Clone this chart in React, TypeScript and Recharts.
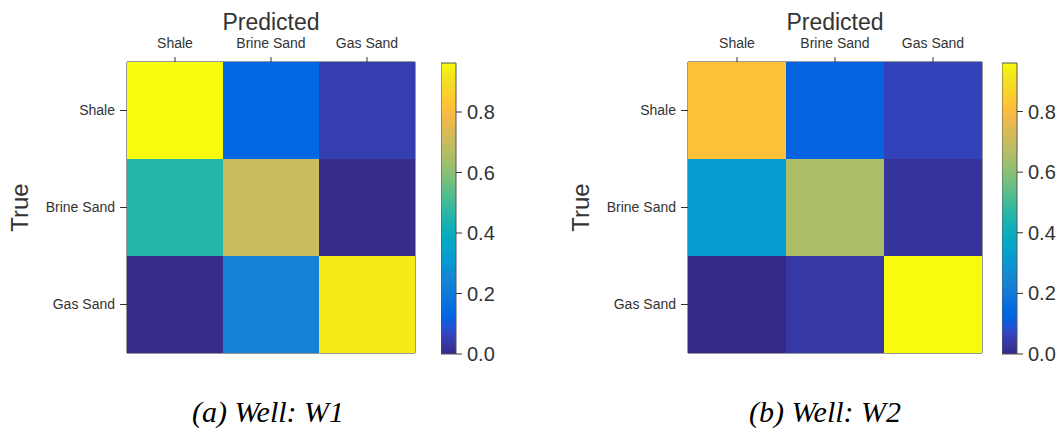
import {
    ComposedChart,
    ReferenceArea,
    Scatter,
    ScatterChart,
    XAxis,
    YAxis,
} from 'recharts';

const PREDICTED = ['Shale', 'Brine Sand', 'Gas Sand'];
const TRUE_LABELS = ['Shale', 'Brine Sand', 'Gas Sand'];
const CBAR_TICKS = [0, 0.2, 0.4, 0.6, 0.8];

// rows = true class, columns = predicted class
const W1 = [
    [0.962, 0.137, 0.049],
    [0.458, 0.702, 0.005],
    [0.005, 0.229, 0.931],
];

const W2 = [
    [0.815, 0.122, 0.061],
    [0.32, 0.652, 0.024],
    [0.0, 0.035, 0.96],
];

// parula colormap (64 steps)
const PARULA = [
    [0.2081, 0.1663, 0.5292], [0.2116, 0.1898, 0.5777], [0.2123, 0.2138, 0.627], [0.2081, 0.2386, 0.6771],
    [0.1959, 0.2645, 0.7279], [0.1707, 0.2919, 0.7792], [0.1253, 0.3242, 0.8303], [0.0591, 0.3598, 0.8683],
    [0.0117, 0.3875, 0.882], [0.006, 0.4086, 0.8828], [0.0165, 0.4266, 0.8786], [0.0329, 0.443, 0.872],
    [0.0498, 0.4586, 0.8641], [0.0629, 0.4737, 0.8554], [0.0723, 0.4887, 0.8467], [0.0779, 0.504, 0.8384],
    [0.0793, 0.52, 0.8312], [0.0749, 0.5375, 0.8263], [0.0641, 0.557, 0.824], [0.0488, 0.5772, 0.8228],
    [0.0343, 0.5966, 0.8199], [0.0265, 0.6137, 0.8135], [0.0239, 0.6287, 0.8038], [0.0231, 0.6418, 0.7913],
    [0.0228, 0.6535, 0.7768], [0.0267, 0.6642, 0.7607], [0.0384, 0.6743, 0.7436], [0.059, 0.6838, 0.7254],
    [0.0843, 0.6928, 0.7062], [0.1133, 0.7015, 0.6859], [0.1453, 0.7098, 0.6646], [0.1801, 0.7177, 0.6424],
    [0.2178, 0.725, 0.6193], [0.2586, 0.7317, 0.5954], [0.3022, 0.7376, 0.5712], [0.3482, 0.7424, 0.5473],
    [0.3953, 0.7459, 0.5244], [0.442, 0.7481, 0.5033], [0.4871, 0.7491, 0.484], [0.53, 0.7491, 0.4661],
    [0.5709, 0.7485, 0.4494], [0.6099, 0.7473, 0.4337], [0.6473, 0.7456, 0.4188], [0.6834, 0.7435, 0.4044],
    [0.7184, 0.7411, 0.3905], [0.7525, 0.7384, 0.3768], [0.7858, 0.7356, 0.3633], [0.8185, 0.7327, 0.3498],
    [0.8507, 0.7299, 0.336], [0.8824, 0.7274, 0.3217], [0.9139, 0.7258, 0.3063], [0.945, 0.7261, 0.2886],
    [0.9739, 0.7314, 0.2666], [0.9938, 0.7455, 0.2403], [0.999, 0.7653, 0.2164], [0.9955, 0.7861, 0.1967],
    [0.988, 0.8066, 0.1794], [0.9789, 0.8271, 0.1633], [0.9697, 0.8481, 0.1475], [0.9626, 0.8705, 0.1309],
    [0.9589, 0.8949, 0.1132], [0.9598, 0.9218, 0.0948], [0.9661, 0.9514, 0.0755], [0.9763, 0.9831, 0.0538],
];

const toHex = (rgb: number[]) =>
    '#' + rgb.map((c) => Math.round(c * 255).toString(16).padStart(2, '0')).join('');

function parula(t: number) {
    const p = Math.max(0, Math.min(1, t)) * (PARULA.length - 1);
    const i = Math.floor(p);
    const j = Math.min(i + 1, PARULA.length - 1);
    const f = p - i;
    return toHex(PARULA[i].map((c, k) => c + (PARULA[j][k] - c) * f));
}

const TEXT = '#333333';
const FONT = '"Liberation Sans", Arial, sans-serif';
const tickStyle = { fill: TEXT, fontSize: 14, fontFamily: FONT };
const line = { stroke: TEXT };

const Y_AXIS_W = 125;
const TOP_AXIS_H = 48;
const PLOT_TOP = 62;
const PLOT_H = 291;
const CHART_H = 380;

interface PanelProps {
    matrix: number[][];
    plotLeft: number;
    plotW: number;
    cbarLeft: number;
    gradId: string;
}

function Panel({ matrix, plotLeft, plotW, cbarLeft, gradId }: PanelProps) {
    const vmax = Math.max(...matrix.flat());
    const cells = matrix.flatMap((row, r) =>
        row.map((v, c) => ({ x: c, y: r, v, color: parula(v / vmax) })),
    );
    const cw = plotW / 3;
    const ch = PLOT_H / 3;
    const chartW = Y_AXIS_W + plotW + 1 + 5;
    const bottomMargin = CHART_H - PLOT_TOP - PLOT_H - 10;

    const cellShape = (props: any) => {
        const { cx, cy, payload } = props;
        return (
            <rect
                x={cx - cw / 2}
                y={cy - ch / 2}
                width={cw}
                height={ch}
                fill={payload.color}
            />
        );
    };

    return (
        <>
            <div style={{ position: 'absolute', left: plotLeft - Y_AXIS_W, top: 0 }}>
                <ScatterChart
                    width={chartW}
                    height={CHART_H}
                    margin={{ top: PLOT_TOP - TOP_AXIS_H, right: 5, bottom: bottomMargin, left: 0 }}
                >
                    <XAxis
                        xAxisId="top"
                        orientation="top"
                        type="number"
                        dataKey="x"
                        domain={[-0.5, 2.5]}
                        ticks={[0, 1, 2]}
                        interval={0}
                        tickFormatter={(i: number) => PREDICTED[i]}
                        height={TOP_AXIS_H}
                        tickSize={5}
                        tickMargin={9}
                        tick={tickStyle}
                        tickLine={line}
                        axisLine={line}
                        label={{
                            value: 'Predicted',
                            position: 'insideTop',
                            offset: 0,
                            style: { fill: TEXT, fontSize: 23, fontFamily: FONT },
                        }}
                    />
                    <XAxis
                        xAxisId="bottom"
                        orientation="bottom"
                        type="number"
                        dataKey="x"
                        domain={[-0.5, 2.5]}
                        ticks={[0, 1, 2]}
                        interval={0}
                        tickFormatter={() => ''}
                        height={10}
                        tickSize={6}
                        tickLine={line}
                        axisLine={line}
                    />
                    <YAxis
                        yAxisId="left"
                        type="number"
                        dataKey="y"
                        domain={[-0.5, 2.5]}
                        reversed
                        ticks={[0, 1, 2]}
                        interval={0}
                        tickFormatter={(i: number) => TRUE_LABELS[i]}
                        width={Y_AXIS_W}
                        tickSize={7}
                        tickMargin={5}
                        tick={tickStyle}
                        tickLine={line}
                        axisLine={line}
                        label={{
                            value: 'True',
                            angle: -90,
                            position: 'insideLeft',
                            offset: 17,
                            style: { fill: TEXT, fontSize: 24, fontFamily: FONT, textAnchor: 'middle' },
                        }}
                    />
                    <YAxis
                        yAxisId="right"
                        orientation="right"
                        type="number"
                        dataKey="y"
                        domain={[-0.5, 2.5]}
                        width={1}
                        tick={false}
                        tickLine={false}
                        axisLine={line}
                    />
                    <Scatter
                        data={cells}
                        xAxisId="top"
                        yAxisId="left"
                        shape={cellShape}
                        isAnimationActive={false}
                    />
                </ScatterChart>
            </div>
            <div style={{ position: 'absolute', left: cbarLeft, top: 0 }}>
                <ComposedChart
                    width={100}
                    height={CHART_H}
                    data={[{ x: 0 }, { x: 1 }]}
                    margin={{ top: PLOT_TOP + 1, right: 0, bottom: CHART_H - PLOT_TOP - PLOT_H - 1, left: 0 }}
                >
                    <defs>
                        <linearGradient id={gradId} x1="0" y1="1" x2="0" y2="0">
                            {PARULA.map((c, i) => (
                                <stop key={i} offset={i / (PARULA.length - 1)} stopColor={toHex(c)} />
                            ))}
                        </linearGradient>
                    </defs>
                    <XAxis type="number" dataKey="x" domain={[0, 1]} hide />
                    <YAxis
                        orientation="right"
                        type="number"
                        domain={[0, vmax]}
                        allowDataOverflow
                        ticks={CBAR_TICKS}
                        interval={0}
                        tickFormatter={(v: number) => v.toFixed(1)}
                        width={85}
                        tickSize={6}
                        tickMargin={5}
                        tick={{ fill: TEXT, fontSize: 20, fontFamily: FONT }}
                        tickLine={line}
                        axisLine={false}
                    />
                    <ReferenceArea
                        x1={0}
                        x2={1}
                        y1={0}
                        y2={vmax}
                        fill={`url(#${gradId})`}
                        fillOpacity={1}
                        stroke="#555555"
                        strokeWidth={1}
                    />
                </ComposedChart>
            </div>
        </>
    );
}

const captionStyle = {
    position: 'absolute' as const,
    top: 397,
    width: 300,
    textAlign: 'center' as const,
    fontFamily: '"Liberation Serif", "Times New Roman", serif',
    fontStyle: 'italic',
    fontSize: 30,
    lineHeight: '30px',
    color: '#000',
};

export default function App() {
    return (
        <div
            style={{
                position: 'absolute',
                left: 0,
                top: 0,
                width: 1062,
                height: 435,
                background: '#fff',
                fontFamily: FONT,
                overflow: 'hidden',
            }}
        >
            <Panel matrix={W1} plotLeft={127} plotW={288} cbarLeft={441} gradId="parula-a" />
            <Panel matrix={W2} plotLeft={688} plotW={294} cbarLeft={1002} gradId="parula-b" />
            <div style={{ ...captionStyle, left: 268 - 150 }}>(a) Well: W1</div>
            <div style={{ ...captionStyle, left: 825 - 150 }}>(b) Well: W2</div>
        </div>
    );
}
